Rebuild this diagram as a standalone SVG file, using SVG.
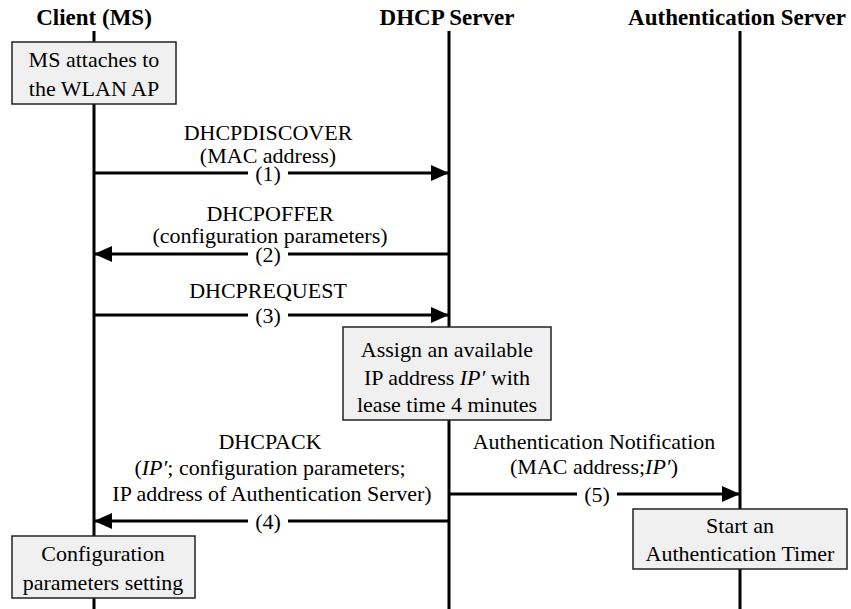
<svg xmlns="http://www.w3.org/2000/svg" width="851" height="609" viewBox="0 0 851 609" font-family="Liberation Serif, Times New Roman, serif">
  <style>
    .hdr { font-size: 23px; font-weight: bold; text-anchor: middle; }
    .lbl { font-size: 22px; text-anchor: middle; }
    .it { font-style: italic; }
    .life { stroke: #000; stroke-width: 3; fill: none; }
    .msg { stroke: #000; stroke-width: 3; fill: none; }
    .box { fill: #f0f0f0; stroke: #222; stroke-width: 1.5; }
    .gap { fill: #fff; }
  </style>
  <defs>
    <marker id="head" viewBox="0 0 18 16" refX="18" refY="8" markerWidth="18" markerHeight="16" markerUnits="userSpaceOnUse" orient="auto">
      <path d="M0,0 L18,8 L0,16 Z" fill="#000"/>
    </marker>
  </defs>

  <rect width="851" height="609" fill="#fff"/>

  <!-- participants and lifelines -->
  <g id="client">
    <text class="hdr" x="94" y="25" font-family="Liberation Serif">Client (MS)</text>
    <line class="life" x1="94" y1="31" x2="94" y2="609"/>
  </g>
  <g id="dhcp-server">
    <text class="hdr" x="447" y="25" font-family="Liberation Serif">DHCP Server</text>
    <line class="life" x1="449" y1="31" x2="449" y2="609"/>
  </g>
  <g id="auth-server">
    <text class="hdr" x="737" y="25" font-family="Liberation Serif">Authentication Server</text>
    <line class="life" x1="740" y1="31" x2="740" y2="609"/>
  </g>

  <!-- messages -->
  <g id="connectors" font-family="Liberation Serif">
    <g id="msg1">
      <line class="msg" x1="94" y1="173" x2="449" y2="173" marker-end="url(#head)"/>
      <rect class="gap" x="248" y="163" width="40" height="20"/>
      <text class="lbl" x="268" y="140">DHCPDISCOVER</text>
      <text class="lbl" x="268" y="163">(MAC address)</text>
      <text class="lbl" x="268" y="181">(1)</text>
    </g>
    <g id="msg2">
      <line class="msg" x1="449" y1="254" x2="94" y2="254" marker-end="url(#head)"/>
      <rect class="gap" x="248" y="244" width="40" height="20"/>
      <text class="lbl" x="270" y="221">DHCPOFFER</text>
      <text class="lbl" x="270" y="243">(configuration parameters)</text>
      <text class="lbl" x="268" y="262">(2)</text>
    </g>
    <g id="msg3">
      <line class="msg" x1="94" y1="315" x2="449" y2="315" marker-end="url(#head)"/>
      <rect class="gap" x="248" y="305" width="40" height="20"/>
      <text class="lbl" x="268" y="298">DHCPREQUEST</text>
      <text class="lbl" x="268" y="323">(3)</text>
    </g>
    <g id="msg4">
      <line class="msg" x1="449" y1="521" x2="94" y2="521" marker-end="url(#head)"/>
      <rect class="gap" x="248" y="511" width="40" height="20"/>
      <text class="lbl" x="270" y="449">DHCPACK</text>
      <text class="lbl" x="270" y="475">(<tspan class="it">IP′</tspan>; configuration parameters;</text>
      <text class="lbl" x="272" y="501">IP address of Authentication Server)</text>
      <text class="lbl" x="268" y="529">(4)</text>
    </g>
    <g id="msg5">
      <line class="msg" x1="449" y1="494" x2="740" y2="494" marker-end="url(#head)"/>
      <rect class="gap" x="577" y="484" width="40" height="20"/>
      <text class="lbl" x="594" y="449">Authentication Notification</text>
      <text class="lbl" x="594" y="474">(MAC address;<tspan class="it">IP′</tspan>)</text>
      <text class="lbl" x="597" y="502">(5)</text>
    </g>
  </g>

  <!-- action boxes -->
  <g id="attach" font-family="Liberation Serif">
    <rect class="box" x="12" y="42" width="164" height="62"/>
    <text class="lbl" x="94" y="67">MS attaches to</text>
    <text class="lbl" x="94" y="96">the WLAN AP</text>
  </g>
  <g id="assign" font-family="Liberation Serif">
    <rect class="box" x="343" y="327" width="208" height="93"/>
    <text class="lbl" x="447" y="357">Assign an available</text>
    <text class="lbl" x="447" y="385">IP address <tspan class="it">IP′</tspan> with</text>
    <text class="lbl" x="447" y="412">lease time 4 minutes</text>
  </g>
  <g id="timer" font-family="Liberation Serif">
    <rect class="box" x="633" y="509" width="214" height="60"/>
    <text class="lbl" x="740" y="533">Start an</text>
    <text class="lbl" x="740" y="561">Authentication Timer</text>
  </g>
  <g id="config" font-family="Liberation Serif">
    <rect class="box" x="12" y="536" width="183" height="62"/>
    <text class="lbl" x="103" y="561">Configuration</text>
    <text class="lbl" x="103" y="590">parameters setting</text>
  </g>
</svg>
